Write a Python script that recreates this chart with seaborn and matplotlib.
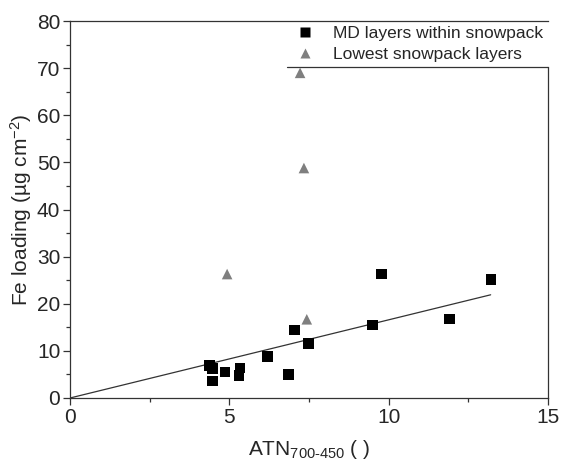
import matplotlib
matplotlib.use('Agg')
import matplotlib.pyplot as plt
from matplotlib.ticker import MultipleLocator
import seaborn as sns
import pandas as pd

# MD layers within snowpack
md_x = [4.37, 4.47, 4.47, 4.87, 5.30, 5.34, 6.20, 6.86, 7.04, 7.48, 9.49, 9.78, 11.90, 13.21]
md_y = [6.9, 6.2, 3.6, 5.5, 4.8, 6.4, 8.8, 5.0, 14.4, 11.6, 15.5, 26.3, 16.8, 25.2]
# Lowest snowpack layers
low_x = [4.93, 7.22, 7.34, 7.43]
low_y = [26.3, 69.0, 48.8, 16.7]
# regression line through origin
fit_x = [0.0, 13.2]
fit_y = [0.0, 21.9]

labels = ['MD layers within snowpack', 'Lowest snowpack layers']

df = pd.DataFrame({
    'atn': md_x + low_x,
    'fe': md_y + low_y,
    'group': [labels[0]] * len(md_x) + [labels[1]] * len(low_x),
})

sns.set_style('ticks')
plt.rcParams['font.family'] = ['Liberation Sans', 'DejaVu Sans']
plt.rcParams['mathtext.fontset'] = 'custom'
plt.rcParams['mathtext.rm'] = 'Liberation Sans'
plt.rcParams['mathtext.it'] = 'Liberation Sans:italic'

fig = plt.figure(figsize=(5.62, 4.63), dpi=100)
ax = fig.add_axes([0.1246, 0.1404, 0.8505, 0.8142])

sns.lineplot(x=fit_x, y=fit_y, color='#333333', linewidth=0.9, ax=ax)
sns.scatterplot(data=df, x='atn', y='fe', hue='group', style='group',
                palette={labels[0]: 'black', labels[1]: '#7f7f7f'},
                markers={labels[0]: 's', labels[1]: '^'},
                s=58, edgecolor='none', ax=ax, zorder=3)

ax.set_xlim(0, 15)
ax.set_ylim(0, 80)
ax.xaxis.set_major_locator(MultipleLocator(5))
ax.xaxis.set_minor_locator(MultipleLocator(2.5))
ax.yaxis.set_major_locator(MultipleLocator(10))
ax.yaxis.set_minor_locator(MultipleLocator(5))
ax.tick_params(which='major', direction='out', length=5, width=0.9,
               color='#333333', labelsize=15, pad=2)
ax.tick_params(which='minor', direction='out', length=3, width=0.9, color='#333333')

for sp in ax.spines.values():
    sp.set_color('#333333')
    sp.set_linewidth(0.9)
ax.spines['right'].set_bounds(0, 70.3)
ax.axhline(70.3, xmin=0.454, xmax=1, color='#333333', linewidth=0.9)

ax.set_xlabel('ATN$_{\\mathrm{700\u2010450}}$ ( )', fontsize=15, labelpad=8)
ax.set_ylabel(r'Fe loading (µg cm$^{-2}$)', fontsize=15, labelpad=2)

leg = ax.legend(loc='upper right', frameon=False, fontsize=12.5,
                handletextpad=0.6, borderaxespad=0.1, labelspacing=0.3,
                markerscale=1.0, borderpad=0.2)

fig.savefig('out.png', dpi=100)
